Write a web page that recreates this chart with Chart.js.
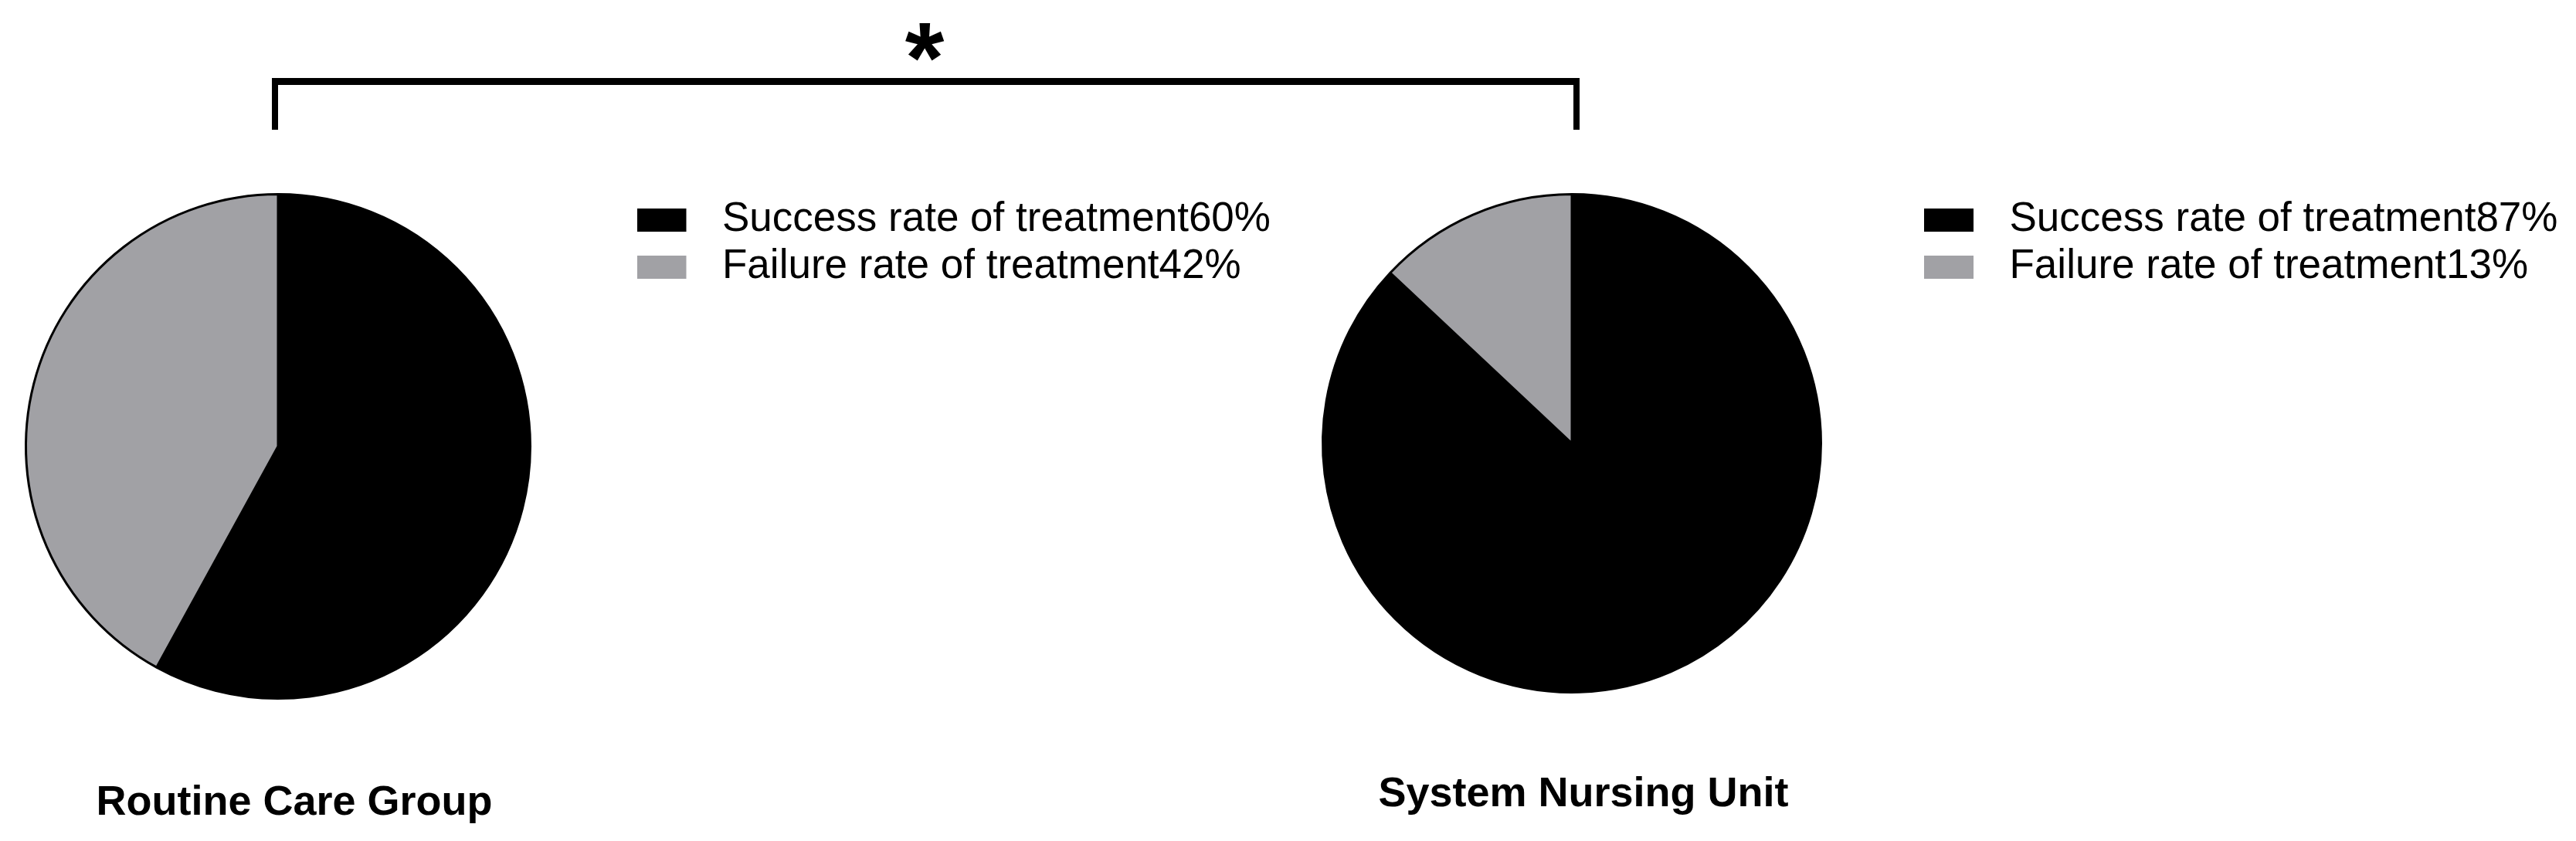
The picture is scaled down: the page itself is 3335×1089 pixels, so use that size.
<!DOCTYPE html>
<html>
<head>
<meta charset="utf-8">
<script src="https://cdn.jsdelivr.net/npm/chart.js@4.4.1/dist/chart.umd.min.js"></script>
<style>
  html, body { margin: 0; padding: 0; background: #fff; }
  body { width: 3335px; height: 1089px; position: relative; overflow: hidden;
         font-family: "Liberation Sans", Arial, sans-serif; color: #000; }
  canvas { position: absolute; }
  .bracket { position: absolute; left: 352px; top: 101px; width: 1693px; height: 67px;
             box-sizing: border-box; border: 8px solid #000; border-top-width: 9px; border-bottom: none; }
  .star { position: absolute; left: 1097px; top: 10px; width: 200px; text-align: center;
          font-weight: bold; font-size: 130px; line-height: 130px; }
  .group { position: absolute; width: 800px; text-align: center; font-weight: bold;
           font-size: 54px; line-height: 54px; white-space: nowrap; }
</style>
</head>
<body>
<div class="bracket"></div>
<div class="star">*</div>
<canvas id="routineChart"></canvas>
<canvas id="nursingChart"></canvas>
<div class="group" id="routineTitle" style="left:-19px; top:1009px;"></div>
<div class="group" id="nursingTitle" style="left:1650px; top:998px;"></div>

<script>
// date
const groupNames = ['Routine Care Group', 'System Nursing Unit'];
const routineLabels = ['Success rate of treatment60%', 'Failure rate of treatment42%'];
const routineValues = [58, 42]; // felia gri din imagine = 42%
const nursingLabels = ['Success rate of treatment87%', 'Failure rate of treatment13%'];
const nursingValues = [87, 13];
const sliceColors = ['#000000', '#a1a1a5'];

const FAMILY = '"Liberation Sans", Arial, sans-serif';
const LEGEND_FONT = 53;
const BOX_W = 64;      // patratelul vizibil
const BOX_GAP = 20;    // spatiu in plus pana la text
const BOX_H = 30;
const LEG_PAD = 8;
const SWATCH_W = BOX_W + BOX_GAP;

Chart.defaults.font.family = FAMILY;
Chart.defaults.color = '#000';

document.getElementById('routineTitle').textContent = groupNames[0];
document.getElementById('nursingTitle').textContent = groupNames[1];

// patratel de legenda desenat pe un canvas mic (partea din dreapta ramane goala)
function makeSwatch(color) {
    const c = document.createElement('canvas');
    c.width = SWATCH_W;
    c.height = BOX_H;
    const ctx = c.getContext('2d');
    ctx.fillStyle = color;
    ctx.fillRect(0, 0, BOX_W, BOX_H);
    return c;
}

// latimea legendei, ca sa punem placinta exact unde trebuie
function legendWidth(labels) {
    const ctx = document.createElement('canvas').getContext('2d');
    ctx.font = LEGEND_FONT + 'px ' + FAMILY;
    const w = Math.max(...labels.map(t => ctx.measureText(t).width));
    return LEG_PAD + SWATCH_W + LEGEND_FONT / 2 + w + LEG_PAD;
}

function swatchLabels(chart) {
    return Chart.overrides.doughnut.plugins.legend.labels.generateLabels(chart)
        .map(item => ({ ...item, lineWidth: 0, pointStyle: makeSwatch(item.fillStyle) }));
}

// area = zona placintei (stanga, dreapta, sus, jos) in pixeli de pagina
function makePie(id, labels, values, area) {
    const canvas = document.getElementById(id);
    const left = Math.floor(area.left);
    const top = area.top - 10;
    const legW = legendWidth(labels);
    const contentRight = area.right + legW;
    const width = Math.ceil(contentRight - left) + 2;
    const height = area.bottom - area.top + 20;

    canvas.width = width;
    canvas.height = height;
    canvas.style.left = left + 'px';
    canvas.style.top = top + 'px';

    return new Chart(canvas, {
        type: 'pie',
        data: {
            labels: labels,
            datasets: [{
                data: values,
                backgroundColor: sliceColors,
                borderColor: '#000',
                borderWidth: 3,
                hoverBorderWidth: 3,
                hoverOffset: 0
            }]
        },
        options: {
            responsive: false,
            animation: false,
            devicePixelRatio: 1,
            layout: {
                padding: {
                    left: area.left - left,
                    right: left + width - contentRight,
                    top: 10,
                    bottom: 10
                }
            },
            plugins: {
                legend: {
                    position: 'right',
                    align: 'start',
                    labels: {
                        usePointStyle: true,
                        pointStyleWidth: SWATCH_W,
                        boxWidth: SWATCH_W,
                        boxHeight: BOX_H,
                        padding: LEG_PAD,
                        color: '#000',
                        font: { size: LEGEND_FONT, family: FAMILY },
                        generateLabels: swatchLabels
                    }
                },
                tooltip: { enabled: false }
            }
        }
    });
}

makePie('routineChart', routineLabels, routineValues, { left: -96.5, right: 818.5, top: 250, bottom: 906 });
makePie('nursingChart', nursingLabels, nursingValues, { left: 1587, right: 2485, top: 250, bottom: 898 });
</script>
</body>
</html>
